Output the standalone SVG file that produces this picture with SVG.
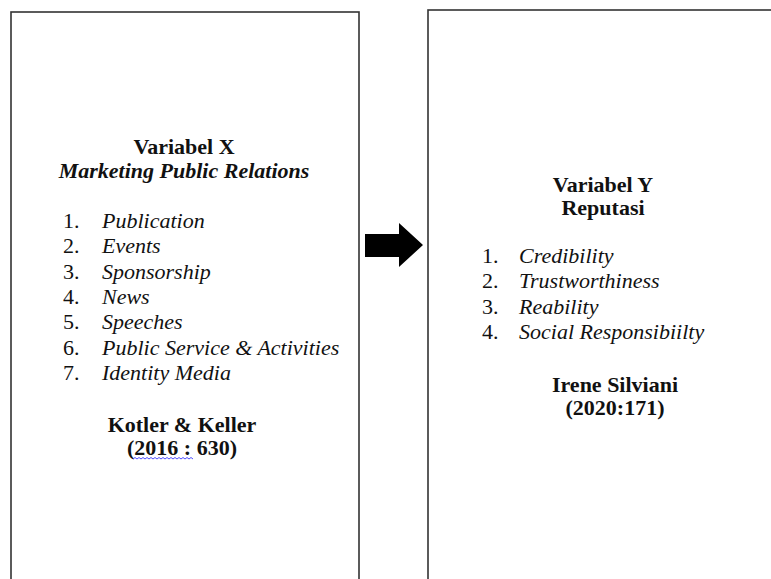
<svg xmlns="http://www.w3.org/2000/svg" width="771" height="579" viewBox="0 0 771 579">
<style>
.box{fill:#fff;stroke:#333;stroke-width:1.6}
text{font-family:"Liberation Serif","Times New Roman",serif;font-size:22px;fill:#111}
.h{font-weight:bold;text-anchor:middle}
.hi{font-weight:bold;font-style:italic;text-anchor:middle}
.it{font-style:italic}
.sq{fill:none;stroke:#3a3aff;stroke-width:0.9}
</style>
<rect width="771" height="579" fill="#fff"/>
<g id="nodeX">
<rect class="box" x="11" y="12" width="348" height="600"/>
<text class="h" x="184" y="154">Variabel X</text>
<text class="hi" x="184" y="178">Marketing Public Relations</text>
<text x="63" y="228">1.</text><text class="it" x="102" y="228">Publication</text>
<text x="63" y="253">2.</text><text class="it" x="102" y="253">Events</text>
<text x="63" y="279">3.</text><text class="it" x="102" y="279">Sponsorship</text>
<text x="63" y="304">4.</text><text class="it" x="102" y="304">News</text>
<text x="63" y="329">5.</text><text class="it" x="102" y="329">Speeches</text>
<text x="63" y="355">6.</text><text class="it" x="102" y="355">Public Service &amp; Activities</text>
<text x="63" y="380">7.</text><text class="it" x="102" y="380">Identity Media</text>
<text class="h" x="182" y="432">Kotler &amp; Keller</text>
<text class="h" x="182" y="455">(2016 : 630)</text>
<path class="sq" d="M133 459 l2 -1.5 l2 1.5 l2 -1.5 l2 1.5 l2 -1.5 l2 1.5 l2 -1.5 l2 1.5 l2 -1.5 l2 1.5 l2 -1.5 l2 1.5 l2 -1.5 l2 1.5 l2 -1.5 l2 1.5 l2 -1.5 l2 1.5 l2 -1.5 l2 1.5 l2 -1.5 l2 1.5 l2 -1.5 l2 1.5 l2 -1.5 l2 1.5 l2 -1.5 l2 1.5 l2 -1.5 l2 1.5"/>
</g>
<g id="nodeY">
<rect class="box" x="428" y="10" width="400" height="600"/>
<text class="h" x="603" y="192">Variabel Y</text>
<text class="h" x="603" y="215">Reputasi</text>
<text x="482" y="263">1.</text><text class="it" x="519" y="263">Credibility</text>
<text x="482" y="288">2.</text><text class="it" x="519" y="288">Trustworthiness</text>
<text x="482" y="314">3.</text><text class="it" x="519" y="314">Reability</text>
<text x="482" y="339">4.</text><text class="it" x="519" y="339">Social Responsibiilty</text>
<text class="h" x="615" y="392">Irene Silviani</text>
<text class="h" x="615" y="415">(2020:171)</text>
</g>
<g id="connectors">
<polygon points="365,234 399,234 399,223 423,245 399,267 399,257 365,257" fill="#000"/>
</g>
</svg>
